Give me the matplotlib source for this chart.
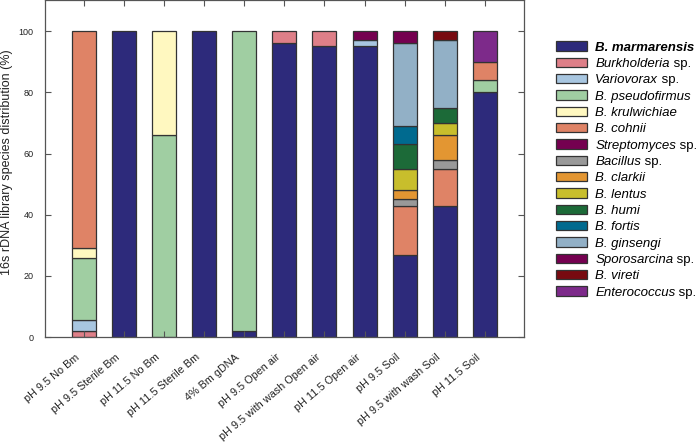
import numpy as np
import matplotlib
matplotlib.use('Agg')
import matplotlib.pyplot as plt
from matplotlib.text import Annotation
from matplotlib.transforms import ScaledTranslation

plt.rcParams['font.family'] = ['Liberation Sans', 'DejaVu Sans']

samples = ['pH 9.5 No Bm', 'pH 9.5 Sterile Bm', 'pH 11.5 No Bm',
           'pH 11.5 Sterile Bm', '4% Bm gDNA', 'pH 9.5 Open air',
           'pH 9.5 with wash Open air', 'pH 11.5 Open air', 'pH 9.5 Soil',
           'pH 9.5 with wash Soil', 'pH 11.5 Soil']

# legend names; the ones followed by " sp." get a plain suffix
species = ['B. marmarensis', 'Burkholderia', 'Variovorax', 'B. pseudofirmus',
           'B. krulwichiae', 'B. cohnii', 'Streptomyces', 'Bacillus',
           'B. clarkii', 'B. lentus', 'B. humi', 'B. fortis', 'B. ginsengi',
           'Sporosarcina', 'B. vireti', 'Enterococcus']
with_sp = ['Burkholderia', 'Variovorax', 'Streptomyces', 'Bacillus',
           'Sporosarcina', 'Enterococcus']

colors = ['#2d2a7b', '#de7f88', '#a8c6e0', '#a0cea2', '#fff8c0', '#df8366',
          '#750050', '#999999', '#e39632', '#c8be2c', '#1c6a38', '#006a8f',
          '#92b0c6', '#750050', '#780a10', '#7d2a8a']

# percent per sample, one list per species (stack order)
marmarensis  = [0, 100, 0, 100, 2, 96, 95, 95, 27, 43, 80]
burkholderia = [2, 0, 0, 0, 0, 4, 5, 0, 0, 0, 0]
variovorax   = [3.5, 0, 0, 0, 0, 0, 0, 2, 0, 0, 0]
pseudofirmus = [20.5, 0, 66, 0, 98, 0, 0, 0, 0, 0, 4]
krulwichiae  = [3, 0, 34, 0, 0, 0, 0, 0, 0, 0, 0]
cohnii       = [71, 0, 0, 0, 0, 0, 0, 0, 16, 12, 6]
streptomyces = [0, 0, 0, 0, 0, 0, 0, 3, 0, 0, 0]
bacillus     = [0, 0, 0, 0, 0, 0, 0, 0, 2, 3, 0]
clarkii      = [0, 0, 0, 0, 0, 0, 0, 0, 3, 8, 0]
lentus       = [0, 0, 0, 0, 0, 0, 0, 0, 7, 4, 0]
humi         = [0, 0, 0, 0, 0, 0, 0, 0, 8, 5, 0]
fortis       = [0, 0, 0, 0, 0, 0, 0, 0, 6, 0, 0]
ginsengi     = [0, 0, 0, 0, 0, 0, 0, 0, 27, 22, 0]
sporosarcina = [0, 0, 0, 0, 0, 0, 0, 0, 4, 0, 0]
vireti       = [0, 0, 0, 0, 0, 0, 0, 0, 0, 3, 0]
enterococcus = [0, 0, 0, 0, 0, 0, 0, 0, 0, 0, 10]

data = [marmarensis, burkholderia, variovorax, pseudofirmus, krulwichiae,
        cohnii, streptomyces, bacillus, clarkii, lentus, humi, fortis,
        ginsengi, sporosarcina, vireti, enterococcus]

fig = plt.figure(figsize=(6.97, 4.46), dpi=100)
ax = fig.add_axes([0.064, 0.244, 0.688, 0.755])

x = np.arange(len(samples))
bottom = np.zeros(len(samples))
handles = []
for vals, col, lab in zip(data, colors, species):
    vals = np.array(vals, dtype=float)
    m = vals > 0
    h = ax.bar(x[m], vals[m], 0.6, bottom=bottom[m], color=col,
               edgecolor='#333333', linewidth=0.9, label=lab)
    handles.append(h)
    bottom += vals

ax.set_xlim(-0.98, len(samples) - 0.02)
ax.set_ylim(0, 110)
ax.set_yticks([0, 20, 40, 60, 80, 100])
ax.set_xticks(x)
ax.set_xticklabels(samples, rotation=40, ha='right', rotation_mode='anchor',
                   fontsize=7.8, color='#222222')
ax.tick_params(direction='in', top=True, right=True, length=4, width=0.8,
               color='#555555')
ax.tick_params(axis='y', labelsize=6.5, pad=8, labelcolor='#222222')
off = ScaledTranslation(-9 / 100, -10 / 100, fig.dpi_scale_trans)
for lbl in ax.get_xticklabels():
    lbl.set_transform(lbl.get_transform() + off)
for sp in ax.spines.values():
    sp.set_color('#555555')
    sp.set_linewidth(0.9)
ax.set_ylabel('16s rDNA library species distribution (%)', fontsize=9,
              color='#222222')
ax.yaxis.set_label_coords(-0.065, 0.52)

leg = fig.legend(handles=handles, loc='upper left', bbox_to_anchor=(0.798, 0.907),
                 frameon=False, fontsize=9.5, handlelength=2.3, handleheight=0.7,
                 labelspacing=0.31, handletextpad=0.65, borderaxespad=0,
                 borderpad=0)
for t, lab in zip(leg.get_texts(), species):
    t.set_fontstyle('italic')
    if lab in with_sp:
        a = Annotation(' sp.', xy=(1, 0), xycoords=t, va='bottom', ha='left',
                       fontsize=9.5, color=t.get_color())
        a.set_zorder(10)
        fig.add_artist(a)
leg.get_texts()[0].set_fontweight('bold')

fig.savefig('out.png', dpi=100)
